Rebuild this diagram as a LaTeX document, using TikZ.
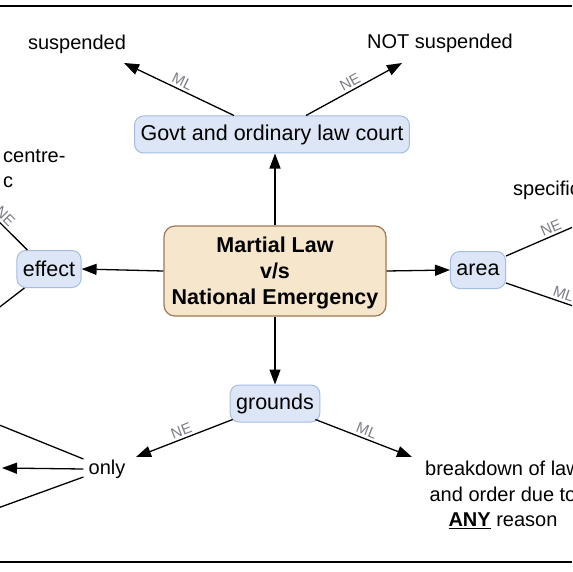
\documentclass[tikz,border=0pt]{standalone}
\usepackage{fontspec}
\setmainfont{Liberation Sans}
\usetikzlibrary{arrows.meta}
\definecolor{boxblue}{RGB}{220,230,246}
\definecolor{lineblue}{RGB}{166,189,227}
\definecolor{tanfill}{RGB}{245,230,204}
\definecolor{tanline}{RGB}{160,120,85}
\definecolor{lblgray}{RGB}{125,125,135}
\tikzset{
 concept/.style={draw=lineblue, fill=boxblue, rounded corners=9pt, line width=1pt, inner xsep=6pt, inner ysep=0pt, minimum height=37pt, font=\fontsize{21.5}{25}\selectfont},
 mainbox/.style={draw=tanline, fill=tanfill, rounded corners=11pt, line width=1.2pt, minimum width=222pt, minimum height=90pt, align=center, text depth=-3.5pt, font=\bfseries\fontsize{21.5}{26}\selectfont},
 plain/.style={font=\fontsize{20}{25.5}\selectfont, inner sep=0pt},
 conn/.style={line width=1.3pt, -{Triangle[length=15pt,width=11pt]}},
 link/.style={line width=1.3pt},
 lbl/.style={font=\fontsize{15}{15}\selectfont, text=lblgray, sloped, above, inner sep=2.5pt},
 frameline/.style={line width=2.5pt, black},
}
\begin{document}
\begin{tikzpicture}[x=1pt,y=-1pt]
\useasboundingbox (0,0) rectangle (572,572);
\clip (0,0) rectangle (572,572);
\fill[white] (0,0) rectangle (572,572);
\draw[frameline] (0,6) -- (572,6);
\draw[frameline] (0,562) -- (572,562);

\node[mainbox] (main) at (275,271) {Martial Law\\v/s\\National Emergency};
\node[concept] (govt) at (272,134.5) {Govt and ordinary law court};
\node[concept] (effect) at (49,269) {effect};
\node[concept] (area) at (478,270) {area};
\node[concept] (grounds) at (275,403.5) {grounds};
\node[plain] (susp) at (77,44) {suspended};
\node[plain] (notsusp) at (440,43) {NOT suspended};
\node[plain, inner xsep=5pt] (only) at (107,469) {only};
\node[plain, align=center] (breakdown) at (503,495) {breakdown of law\\and order due to\\\underline{\textbf{ANY}} reason};
\node[plain, align=left, anchor=north west] (centre) at (3,149) {centre-\\c};
\node[plain, anchor=west] (specific) at (513,190) {specific};

\coordinate (gl) at (124,63);
\coordinate (gr) at (402,63);
\draw[conn] ([xshift=-38pt]govt.north) -- node[lbl]{ML} (gl);
\draw[conn] ([xshift=34pt]govt.north) -- node[lbl]{NE} (gr);

\draw[conn] (main.north) -- (main.north |- govt.south);
\draw[conn] (main.west) -- (effect.east);
\draw[conn] (main.east) -- (area.west);
\draw[conn] (main.south) -- (grounds.north);

\coordinate (gNE) at (136,457);
\coordinate (gML) at (412,457);
\draw[conn] ([xshift=3pt,yshift=3pt]grounds.south west) -- node[lbl]{NE} (gNE);
\draw[conn] ([xshift=-5pt,yshift=3pt]grounds.south east) -- node[lbl]{ML} (gML);

\coordinate (oL) at (2,468);
\coordinate (oU) at (-60,401);
\coordinate (oD) at (-60,529);
\draw[conn] (only.west) -- (oL);
\draw[link] ([yshift=10pt]only.west) -- (oU);
\draw[link] ([yshift=-8pt]only.west) -- (oD);

\coordinate (eU) at (-60,163);
\coordinate (eD) at (-60,353);
\draw[link] ([xshift=11pt]effect.north west) -- node[lbl,pos=0.32]{NE} (eU);
\draw[link] ([xshift=8pt]effect.south west) -- (eD);

\coordinate (aU) at (640,198);
\coordinate (aD) at (640,329);
\draw[link] ([yshift=-5pt]area.north east) -- node[lbl,pos=0.36]{NE} (aU);
\draw[link] ([yshift=6pt]area.south east) -- node[lbl,pos=0.41]{ML} (aD);
\end{tikzpicture}
\end{document}
